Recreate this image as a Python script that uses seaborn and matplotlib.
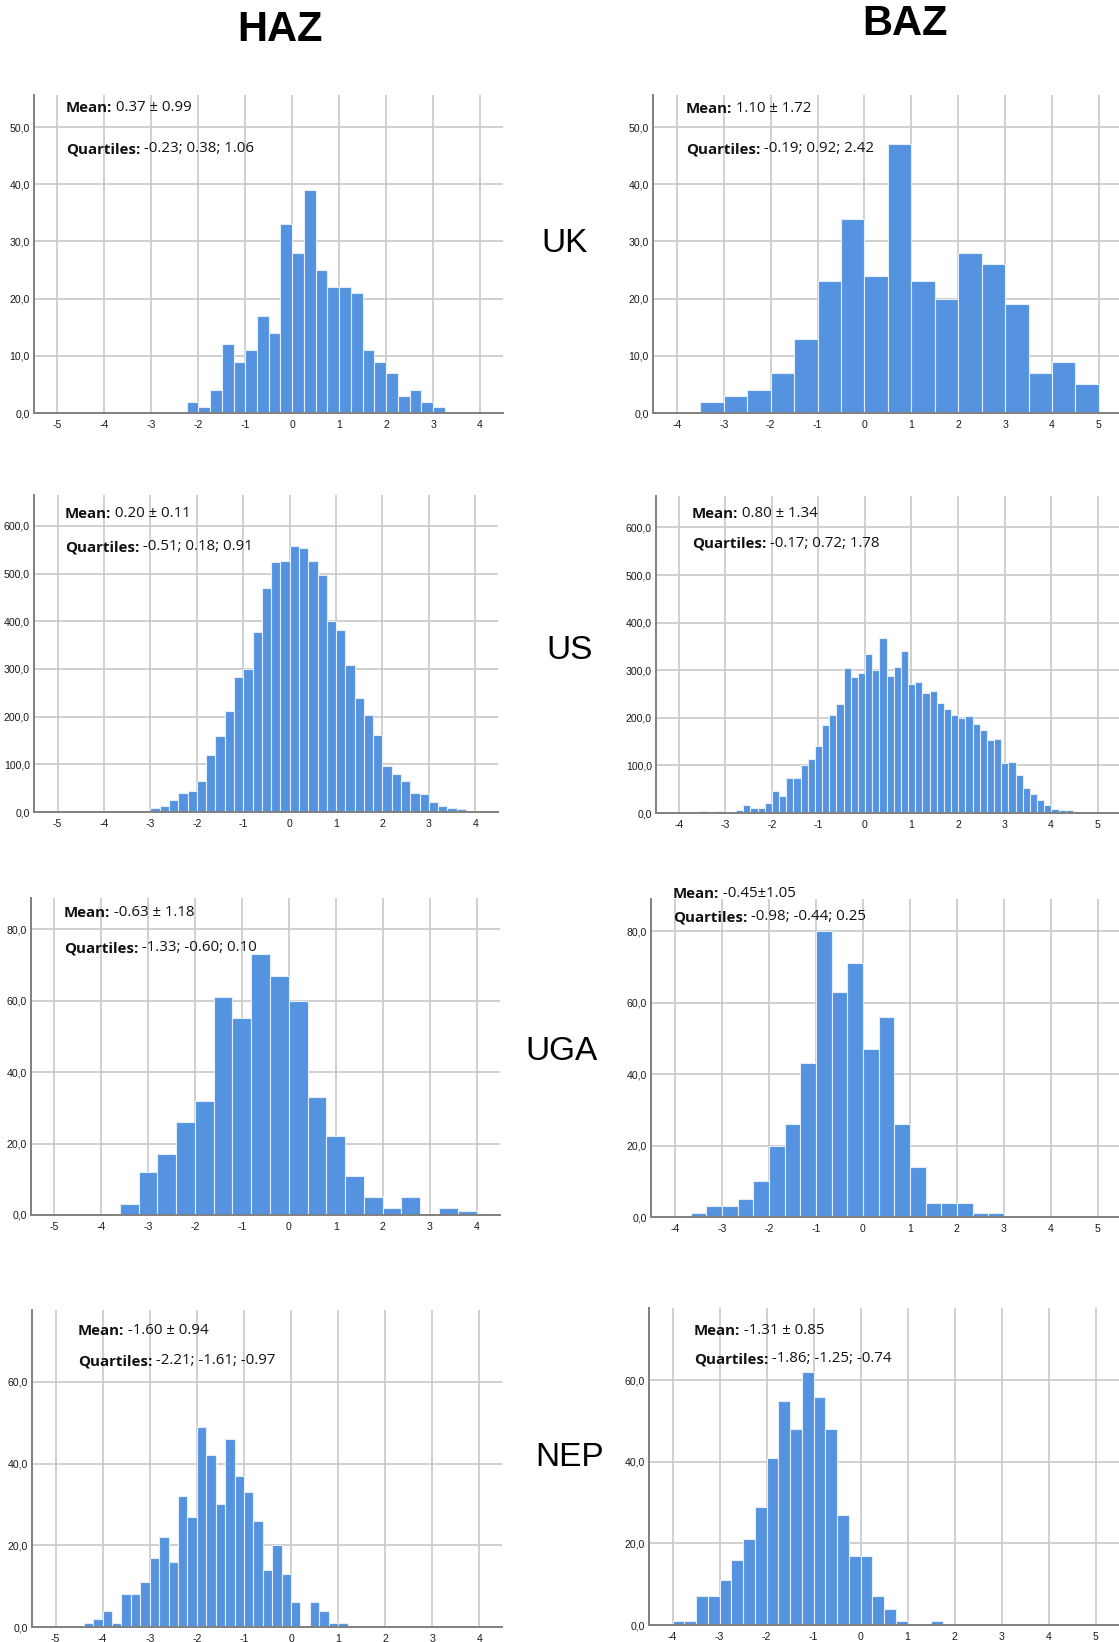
import numpy as np
import pandas as pd
import matplotlib
matplotlib.use("Agg")
import matplotlib.pyplot as plt
import seaborn as sns

W, H = 1119, 1642

# ---- histogram data: first bin edge, bin width, counts per bin ----
uk_haz_start, uk_haz_width = -2.25, 0.25
uk_haz_counts = [2, 1, 4, 12, 9, 11, 17, 14, 33, 28, 39, 25, 22, 22, 21, 11, 9, 7, 3, 4, 2, 1]

uk_baz_start, uk_baz_width = -3.5, 0.5
uk_baz_counts = [2, 3, 4, 7, 13, 23, 34, 24, 47, 23, 20, 28, 26, 19, 7, 9, 5]

us_haz_start, us_haz_width = -4.6, 0.2
us_haz_counts = [2, 0, 3, 1, 1, 2, 3, 3,
                 8, 13, 25, 40, 45, 66, 119, 159, 211, 284,
                 300, 378, 470, 524, 526,
                 557, 553, 527, 497, 401,
                 382, 308, 240, 203, 162,
                 97, 80, 64, 40, 38,
                 21, 12, 9, 7, 3,
                 1]

us_baz_start, us_baz_width = -3.54, 0.154
us_baz_counts = [4, 0, 5, 1, 1, 7, 16, 10, 11, 22,
                 47, 35, 74, 73, 101, 113, 141, 185, 206, 229,
                 304, 286, 294, 333, 301, 368, 287, 307, 340, 272,
                 275, 252, 257, 231, 219, 206, 200, 203, 186, 175,
                 153, 155, 106, 108, 80, 52, 40, 28, 17, 9,
                 6, 7]

uga_haz_start, uga_haz_width = -3.6, 0.4
uga_haz_counts = [3, 12, 17, 26, 32, 61, 55, 73, 67, 60, 33, 22, 11, 5, 2, 5, 0, 2, 1]

uga_baz_start, uga_baz_width = -11 / 3, 1 / 3
uga_baz_counts = [1, 3, 3, 5, 10, 20, 26, 43, 80, 63, 71, 47, 56, 26, 14, 4, 4, 4, 1, 1]

nep_haz_start, nep_haz_width = -4.4, 0.2
nep_haz_counts = [1, 2, 4, 1, 8, 8, 11, 17, 22, 16, 32, 27, 49, 42, 30, 46, 37, 33, 26,
                  14, 20, 13, 6, 0, 6, 4, 1, 1]

nep_baz_start, nep_baz_width = -4.0, 0.25
nep_baz_counts = [1, 1, 7, 7, 11, 16, 21, 29, 41, 55, 48, 62, 56, 48, 27, 17, 17, 7, 4, 1, 0, 0, 1]

# summary labels
uk_haz_mean, uk_haz_quart = "0.37 ± 0.99", "-0.23; 0.38; 1.06"
uk_baz_mean, uk_baz_quart = "1.10 ± 1.72", "-0.19; 0.92; 2.42"
us_haz_mean, us_haz_quart = "0.20 ± 0.11", "-0.51; 0.18; 0.91"
us_baz_mean, us_baz_quart = "0.80 ± 1.34", "-0.17; 0.72; 1.78"
uga_haz_mean, uga_haz_quart = "-0.63 ± 1.18", "-1.33; -0.60; 0.10"
uga_baz_mean, uga_baz_quart = "-0.45±1.05", "-0.98; -0.44; 0.25"
nep_haz_mean, nep_haz_quart = "-1.60 ± 0.94", "-2.21; -1.61; -0.97"
nep_baz_mean, nep_baz_quart = "-1.31 ± 0.85", "-1.86; -1.25; -0.74"

column_titles = ["HAZ", "BAZ"]
row_labels = ["UK", "US", "UGA", "NEP"]

haz_xticks = list(range(-5, 5))
baz_xticks = list(range(-4, 6))
uk_yticks = [0, 10, 20, 30, 40, 50]
us_yticks = [0, 100, 200, 300, 400, 500, 600]
uga_yticks = [0, 20, 40, 60, 80]
nep_yticks = [0, 20, 40, 60]

BAR = "#5592e0"
EDGE = "#e4eefa"
GRID = "#c8c8c8"
SPINE = "#808080"

sns.set_style("white")
plt.rcParams["font.family"] = ["Liberation Sans", "DejaVu Sans"]

fig = plt.figure(figsize=(W / 100, H / 100), dpi=100)


def px_axes(left, top, right, bottom):
    return fig.add_axes([left / W, 1 - bottom / H, (right - left) / W, (bottom - top) / H])


def draw_panel(rect, start, width, counts, xlim, xticks, ylim, yticks):
    ax = px_axes(*rect)
    edges = [start + width * i for i in range(len(counts) + 1)]
    centers = [(a + b) / 2 for a, b in zip(edges[:-1], edges[1:])]
    df = pd.DataFrame({"z": centers, "n": counts})
    sns.histplot(data=df, x="z", weights="n", bins=edges, ax=ax,
                 color=BAR, edgecolor=EDGE, linewidth=0.8, alpha=1.0)
    ax.set_xlim(*xlim)
    ax.set_ylim(*ylim)
    ax.set_xticks(xticks)
    ax.set_xticklabels([str(t) for t in xticks])
    ax.set_yticks(yticks)
    ax.set_yticklabels([f"{t:.1f}".replace(".", ",") for t in yticks])
    ax.set_xlabel("")
    ax.set_ylabel("")
    ax.grid(True, color=GRID, linewidth=1.2)
    ax.set_axisbelow(True)
    for s in ("top", "right"):
        ax.spines[s].set_visible(False)
    for s in ("left", "bottom"):
        ax.spines[s].set_color(SPINE)
        ax.spines[s].set_linewidth(1.4)
    ax.tick_params(axis="both", length=0, labelsize=7.6, colors="#1a1a1a")
    ax.tick_params(axis="y", pad=3)
    ax.tick_params(axis="x", pad=5)
    return ax


def stats_text(ax, x, y_mean, y_quart, mean_txt, quart_txt):
    for y, head, body in ((y_mean, "Mean:", " " + mean_txt), (y_quart, "Quartiles:", " " + quart_txt)):
        t = fig.text(x / W, 1 - y / H, head, fontsize=10.8, fontweight="bold",
                     family=["Open Sans", "DejaVu Sans"], va="baseline", ha="left", color="#111111")
        ax.annotate(body, xy=(1, 0), xycoords=t, va="bottom", ha="left",
                    fontsize=10.8, family=["Open Sans", "DejaVu Sans"], color="#111111",
                    annotation_clip=False)


panels = [
    ((34, 95, 503, 413), uk_haz_start, uk_haz_width, uk_haz_counts, (-5.5, 4.49), haz_xticks, (0, 55.6), uk_yticks,
     (66, 112, 153), uk_haz_mean, uk_haz_quart),
    ((653, 95, 1119, 413), uk_baz_start, uk_baz_width, uk_baz_counts, (-4.51, 5.43), baz_xticks, (0, 55.6), uk_yticks,
     (686, 113, 153), uk_baz_mean, uk_baz_quart),
    ((34, 495, 498, 812), us_haz_start, us_haz_width, us_haz_counts, (-5.51, 4.49), haz_xticks, (0, 665), us_yticks,
     (65, 518, 551), us_haz_mean, us_haz_quart),
    ((656, 496, 1119, 813), us_baz_start, us_baz_width, us_baz_counts, (-4.49, 5.46), baz_xticks, (0, 666), us_yticks,
     (692, 518, 548), us_baz_mean, us_baz_quart),
    ((31, 898, 500, 1215), uga_haz_start, uga_haz_width, uga_haz_counts, (-5.49, 4.5), haz_xticks, (0, 88.7), uga_yticks,
     (64, 917, 952), uga_haz_mean, uga_haz_quart),
    ((651, 899, 1119, 1217), uga_baz_start, uga_baz_width, uga_baz_counts, (-4.51, 5.45), baz_xticks, (0, 89), uga_yticks,
     (673, 898, 921), uga_baz_mean, uga_baz_quart),
    ((32, 1310, 502, 1627), nep_haz_start, nep_haz_width, nep_haz_counts, (-5.5, 4.48), haz_xticks, (0, 77.6), nep_yticks,
     (78, 1335, 1365), nep_haz_mean, nep_haz_quart),
    ((649, 1308, 1119, 1625), nep_baz_start, nep_baz_width, nep_baz_counts, (-4.5, 5.5), baz_xticks, (0, 77.7), nep_yticks,
     (694, 1335, 1363), nep_baz_mean, nep_baz_quart),
]

for rect, start, width, counts, xlim, xt, ylim, yt, (tx, ym, yq), mtxt, qtxt in panels:
    ax = draw_panel(rect, start, width, counts, xlim, xt, ylim, yt)
    stats_text(ax, tx, ym, yq, mtxt, qtxt)

# column headers
for label, (cx, cy) in zip(column_titles, [(280, 30), (905, 24)]):
    fig.text(cx / W, 1 - cy / H, label, fontsize=30, fontweight="bold",
             ha="center", va="center", color="black")

# row labels between the columns
for label, (cx, cy) in zip(row_labels, [(565, 243), (570, 650), (562, 1051), (570, 1457)]):
    fig.text(cx / W, 1 - cy / H, label, fontsize=24, ha="center", va="center", color="black")

fig.savefig("out.png", dpi=100, facecolor="white")
